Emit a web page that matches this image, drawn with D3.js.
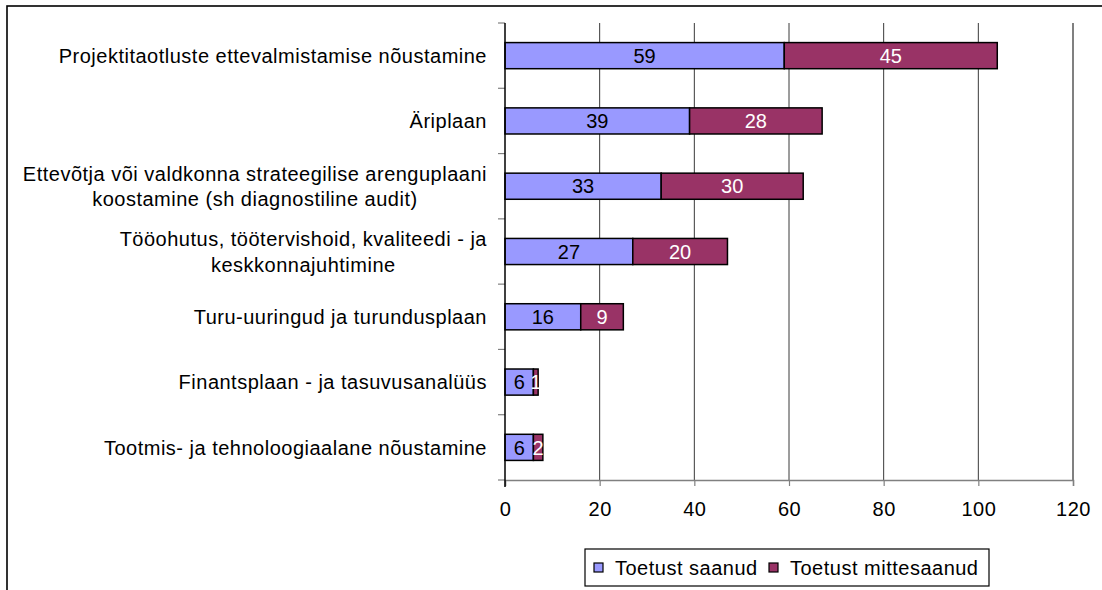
<!DOCTYPE html>
<html>
<head>
<meta charset="utf-8">
<script src="https://cdn.jsdelivr.net/npm/d3@7"></script>
<style>
  html, body { margin: 0; padding: 0; background: #fff; }
  svg { display: block; font-family: "Liberation Sans", Arial, sans-serif; }
</style>
</head>
<body>
<svg id="chart" width="1102" height="590"></svg>
<script>
// --- data ---
const categories = [
  "Projektitaotluste ettevalmistamise nõustamine",
  "Äriplaan",
  "Ettevõtja või valdkonna strateegilise arenguplaani\nkoostamine (sh diagnostiline audit)",
  "Tööohutus, töötervishoid, kvaliteedi - ja\nkeskkonnajuhtimine",
  "Turu-uuringud ja turundusplaan",
  "Finantsplaan - ja tasuvusanalüüs",
  "Tootmis- ja tehnoloogiaalane nõustamine"
];
const seriesNames = ["Toetust saanud", "Toetust mittesaanud"];
const received = [59, 39, 33, 27, 16, 6, 6];
const notReceived = [45, 28, 30, 20, 9, 1, 2];
const xTicks = [0, 20, 40, 60, 80, 100, 120];

const colors = ["#9999FF", "#993366"];
const labelColors = ["#000", "#fff"];

const svg = d3.select("#chart");
const W = 1102, H = 590;

// outer chart border (cut off on the right and bottom)
svg.append("rect")
  .attr("x", 7).attr("y", 6)
  .attr("width", W).attr("height", H)
  .attr("fill", "none").attr("stroke", "#000").attr("stroke-width", 1.6);

const plot = { left: 505, right: 1073, top: 23, bottom: 480 };

const x = d3.scaleLinear().domain([0, 120]).range([plot.left, plot.right]);
const y = d3.scaleBand().domain(categories)
  .range([plot.top, plot.bottom])
  .paddingInner(0.6).paddingOuter(0.3);
const step = y.step();

// vertical gridlines
svg.append("g").selectAll("line")
  .data(xTicks.filter(t => t > 0))
  .join("line")
  .attr("x1", d => x(d)).attr("x2", d => x(d))
  .attr("y1", plot.top).attr("y2", plot.bottom)
  .attr("stroke", d => d === 120 ? "#808080" : "#3a3a3a")
  .attr("stroke-width", d => d === 120 ? 2 : 1);

// bottom axis
const xAxis = svg.append("g").attr("transform", `translate(0,${plot.bottom})`)
  .call(d3.axisBottom(x).tickValues(xTicks).tickSize(6).tickPadding(16));
xAxis.select(".domain").attr("stroke", "#808080").attr("stroke-width", 1.5);
xAxis.selectAll(".tick line").attr("stroke", "#808080").attr("stroke-width", 1.2);
xAxis.selectAll(".tick text")
  .attr("font-size", 20).attr("letter-spacing", 0.5).attr("fill", "#000")
  .attr("font-family", "Liberation Sans, Arial, sans-serif");

// left axis: ticks at band boundaries
const yAxisG = svg.append("g");
yAxisG.selectAll("line.tk")
  .data(d3.range(categories.length + 1))
  .join("line")
  .attr("class", "tk")
  .attr("x1", plot.left - 7).attr("x2", plot.left)
  .attr("y1", i => plot.top + i * step).attr("y2", i => plot.top + i * step)
  .attr("stroke", "#808080").attr("stroke-width", 1.2);

// stacked bars
const stackData = categories.map((c, i) => ({ cat: c, a: received[i], b: notReceived[i] }));
const stacked = d3.stack().keys(["a", "b"])(stackData);

stacked.forEach((layer, si) => {
  const g = svg.append("g");
  g.selectAll("rect")
    .data(layer)
    .join("rect")
    .attr("x", d => x(d[0]))
    .attr("y", d => y(d.data.cat))
    .attr("width", d => x(d[1]) - x(d[0]))
    .attr("height", y.bandwidth())
    .attr("fill", colors[si])
    .attr("stroke", "#000").attr("stroke-width", 1.5);
});

stacked.forEach((layer, si) => {
  svg.append("g").selectAll("text")
    .data(layer)
    .join("text")
    .attr("x", d => (x(d[0]) + x(d[1])) / 2)
    .attr("y", d => y(d.data.cat) + y.bandwidth() / 2)
    .attr("dy", "0.36em")
    .attr("text-anchor", "middle")
    .attr("font-size", 20)
    .attr("fill", labelColors[si])
    .text(d => d[1] - d[0]);
});

svg.append("line")
  .attr("x1", plot.left).attr("x2", plot.left)
  .attr("y1", plot.top).attr("y2", plot.bottom + 7)
  .attr("stroke", "#000").attr("stroke-width", 1.5);

// category labels: block right-aligned, lines centred within block
const labelRight = 487;
const lineH = 25.6;
categories.forEach(c => {
  const lines = c.split("\n");
  const cy = y(c) + y.bandwidth() / 2;
  const t = svg.append("text")
    .attr("font-size", 20).attr("letter-spacing", 0.5).attr("fill", "#000");
  lines.forEach((ln, i) => {
    t.append("tspan").attr("data-i", i).text(ln);
  });
  const spans = t.selectAll("tspan").nodes();
  const widths = spans.map(s => s.getComputedTextLength());
  const blockW = d3.max(widths);
  const cx = labelRight - blockW / 2;
  spans.forEach((s, i) => {
    d3.select(s)
      .attr("x", cx)
      .attr("text-anchor", "middle")
      .attr("y", cy + (i - (lines.length - 1) / 2) * lineH)
      .attr("dy", "0.36em");
  });
});

// legend
const legend = svg.append("g");
legend.append("rect")
  .attr("x", 585).attr("y", 549)
  .attr("width", 404).attr("height", 37)
  .attr("fill", "#fff").attr("stroke", "#000").attr("stroke-width", 1.2);
const legX = [594, 769];
seriesNames.forEach((name, i) => {
  legend.append("rect")
    .attr("x", legX[i]).attr("y", 563)
    .attr("width", 9).attr("height", 9)
    .attr("fill", colors[i]).attr("stroke", "#000").attr("stroke-width", 1.2);
  legend.append("text")
    .attr("x", legX[i] + 21).attr("y", 567.5)
    .attr("dy", "0.36em")
    .attr("font-size", 20).attr("letter-spacing", 0.5).attr("fill", "#000")
    .text(name);
});
</script>
</body>
</html>
